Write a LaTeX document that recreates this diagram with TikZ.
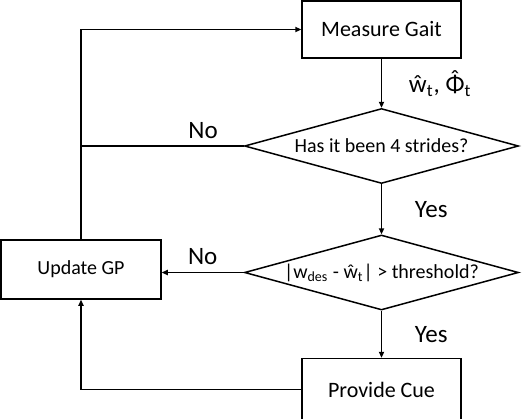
\documentclass[tikz,border=0pt]{standalone}
\usepackage{fontspec}
\setmainfont{Carlito}
\usetikzlibrary{positioning,shapes.geometric,arrows.meta}
\tikzset{node distance=25pt, auto, >={Triangle[length=3pt,width=2.6pt]}}

\begin{document}
\begin{tikzpicture}[x=0.5pt,y=-0.5pt,line width=0.75pt,
  box/.style={draw,rectangle,minimum width=79.5pt,font=\fontsize{11}{13}\selectfont},
  test/.style={draw,diamond,aspect=3.65,inner sep=0pt,minimum width=137pt,minimum height=37.5pt,font=\fontsize{10}{12}\selectfont},
  lbl/.style={font=\fontsize{12.5}{15}\selectfont}]
\useasboundingbox (0,0) rectangle (524,418);
\node (gait) [box,minimum height=28.5pt] at (381.5,29.5) {Measure Gait};
\node (strides) [test,below=24.5pt of gait] {Has it been 4 strides?};
\node (err) [test,below=25pt of strides] {|w\textsubscript{des} - ŵ\textsubscript{t}| > threshold?};
\node (cue) [box,minimum height=31pt,below=23.5pt of err] {Provide Cue};
\node (gp) [box,minimum width=80pt,minimum height=29.5pt,font=\fontsize{10}{12}\selectfont] at (81,269.5) {Update GP};
\draw[->] (gait) to node[lbl,right=10pt] {ŵ\textsubscript{t}, {\accent"02C6 Φ}\textsubscript{t}} (strides);
\draw (strides.west) -- node[lbl,above,pos=0.25] {No} (strides.west -| gp);
\draw[->] (gp) |- (gait);
\draw[->] (strides) to node[lbl,right=13pt] {Yes} (err);
\draw[->] (err.west) to node[lbl,above] {No} (err.west -| gp.east);
\draw[->] (err) to node[lbl,right=13pt] {Yes} (cue);
\draw[->] (cue) -| (gp);
\end{tikzpicture}
\end{document}
